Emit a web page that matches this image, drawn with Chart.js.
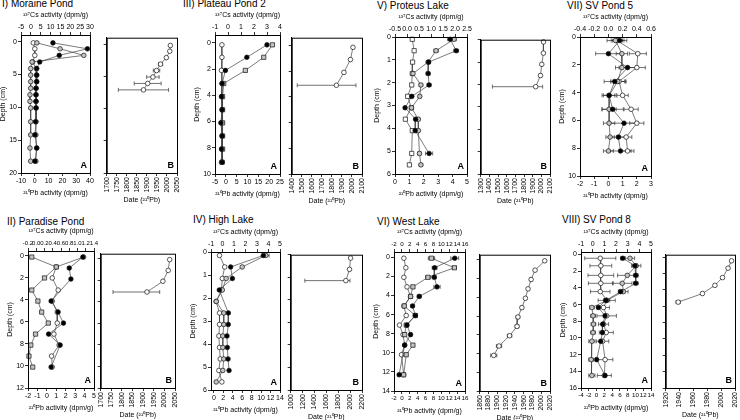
<!DOCTYPE html>
<html>
<head>
<meta charset="utf-8">
<script src="https://cdn.jsdelivr.net/npm/chart.js@4.4.1/dist/chart.umd.min.js"></script>
<style>
  body { margin: 0; width: 740px; height: 420px; position: relative; overflow: hidden; background: #fff;
         font-family: "Liberation Sans", Arial, sans-serif; }
  canvas { position: absolute; }
  .ttl { position: absolute; font-size: 10px; line-height: 12px; color: #000; white-space: nowrap; }
</style>
</head>
<body>
<div class="ttl" style="left:2px;top:-2px">I) Moraine Pond</div>
<div class="ttl" style="left:183px;top:-2px">III) Plateau Pond 2</div>
<div class="ttl" style="left:377px;top:0px">V) Proteus Lake</div>
<div class="ttl" style="left:567px;top:0px">VII) SV Pond 5</div>
<div class="ttl" style="left:7px;top:216px">II) Paradise Pond</div>
<div class="ttl" style="left:193px;top:214px">IV) High Lake</div>
<div class="ttl" style="left:377px;top:216px">VI) West Lake</div>
<div class="ttl" style="left:562px;top:214px">VIII) SV Pond 8</div>

<script>
// --- DATA: depth (cm), 210Pb / 137Cs activity (dpm/g), 210Pb dates ---

// I) Moraine Pond
const morDepth = [0.2, 1.1, 2.1, 3.1, 4.1, 5.1, 6.1, 7.1, 8.1, 9.1, 10.1, 12.2, 14.2, 16.2, 18.2];
const morCs = [11.2, 28.7, 14.4, 4.5, 3, 3, 3, 2.6, 2.6, 2.6, 2.6, 2.4, 2.1, 3, 2.1];
const morGrey = [1.5, 18.3, 35.5, -2, -3, -3, -3, -3, -3.5, -3.5, -3, -3, -3, -3.5, -3];
const morWhite = [-1.1, 0, 0, -1.5, 1, 1.2, 1.2, 1, 0.9, 0.9, 1, 0.9, 0.8, 1.3, 0.8];
const morDateDepth = [0.2, 1.1, 2.1, 3.1, 4.1, 5.1, 6.1, 7.1];
const morDate = [2017, 2014, 1997, 1968, 1948, 1930, 1904, 1883];
const morDateErr = [0, 0, 2, 10, 16, 31, 67, 125];
const morDepthTicks = [0, 5, 10, 15, 20];
const morPbTicks = [-10, 0, 10, 20, 30, 40];
const morCsTicks = [-5, 0, 5, 10, 15, 20, 25, 30];
const morDateTicks = [1700, 1750, 1800, 1850, 1900, 1950, 2000, 2050];

// III) Plateau Pond 2
const ppDepth = [0.15, 1.1, 2.1, 3.1, 4.1, 5.1, 6.1, 7.1, 8.1, 9.1];
const ppCs = [3.0, 1.45, -0.2, -0.45, -0.5, -0.45, -0.55, -0.45, -0.5, -0.45];
const ppGrey = [21.5, 17.5, 9, -1, -1.5, -1.5, -1.5, -1.5, -1.5, -1.7];
const ppWhite = [-1.8, -1.8, -2, -1.8, -1.8, -1.8, -1.8, -1.8, -1.8, -2];
const ppDateDepth = [0.15, 1.1, 2.1, 3.1];
const ppDate = [2010, 1985, 1920, 1845];
const ppDateErr = [0, 0, 8, [390, 195]];
const ppDepthTicks = [0, 2, 4, 6, 8, 10];
const ppPbTicks = [-5, 0, 5, 10, 15, 20, 25];
const ppCsTicks = [-1, 0, 1, 2, 3, 4];
const ppDateTicks = [1400, 1500, 1600, 1700, 1800, 1900, 2000, 2100];

// V) Proteus Lake
const proDepth = [0.1, 0.6, 1.1, 1.6, 2.1, 2.6, 3.1, 3.6, 4.1, 5.1, 5.6];
const proWhite = [1.2, 1.33, 1.22, 1.2, 1.16, 0.88, 1.13, 0.72, 1.2, 1.16, 1.0];
const proGrey = [4.1, 2.85, 2.3, 1.25, 1.8, 1.72, 1.15, 1.62, 1.62, 1.7, 1.8];
const proGreyErr = [0.15, 0.15, 0.12, 0.1, 0.12, 0.1, 0.1, 0.1, 0.1, 0.12, 0.12];
const proCsDepth = [0.1, 0.6, 1.1, 1.6, 2.1, 2.6, 3.1, 3.6, 4.1, 5.1];
const proCs = [1.8, 2.05, 0.9, 0.88, 0.92, 0.2, -0.08, 0.36, 0.34, 0.92];
const proCsErr = [0.1, 0.1, 0.08, 0.08, 0.08, 0.06, 0.05, 0.06, 0.06, 0.15];
const proDateDepth = [0.1, 0.6, 1.1, 1.6, 2.1];
const proDate = [2025, 2024, 2005, 1990, 1935];
const proDateErr = [0, 0, 8, 12, [500, 80]];
const proDepthTicks = [0, 1, 2, 3, 4, 5, 6];
const proPbTicks = [0, 1, 2, 3, 4, 5];
const proCsTicks = ['-0.5', '0.0', '0.5', '1.0', '1.5', '2.0', '2.5'];
const proDateTicks = [1300, 1400, 1500, 1600, 1700, 1800, 1900, 2000, 2100];

// VII) SV Pond 5
const sv5Depth = [0.25, 1.2, 2.2, 3.2, 4.2, 5.2, 6.2, 7.2, 8.2];
const sv5Cs = [0.16, 0.0, 0.27, 0.09, 0.01, 0.06, 0.22, 0.14, 0.17];
const sv5CsErr = [0.1, 0.18, 0.12, 0.15, 0.1, 0.15, 0.2, 0.12, 0.15];
const sv5White = [0.6, 2.07, 2.0, 0.75, 1.0, 1.6, 2.0, 1.25, 1.35];
const sv5WhiteErr = [0.4, 0.6, 0.6, 0.5, 0.4, 0.5, 0.5, 0.4, 0.45];
const sv5Grey = [0.5, 0.95, 0.95, 0.65, 0.05, 0.05, 0.05, 0.12, 0.0];
const sv5GreyErr = [0.6, 0.4, 0.45, 0.5, 0.4, 0.5, 0.4, 0.3, 0.35];
const sv5DepthTicks = [0, 2, 4, 6, 8, 10];
const sv5PbTicks = [-2, -1, 0, 1, 2, 3];
const sv5CsTicks = ['-0.4', '-0.2', '0.0', '0.2', '0.4', '0.6'];

// II) Paradise Pond
const parDepth = [0.1, 1.0, 2.0, 3.1, 4.1, 5.1, 6.1, 7.1, 8.1, 9.1, 10.1];
const parGrey = [-1.6, 1.0, -0.25, -1.6, -0.95, -0.55, 0.15, -1.2, -1.7, -1.9, -1.5];
const parWhite = [3.9, 1.0, 0.57, 1.2, 0.57, 1.1, 1.1, 0.75, 1.3, 0.5, 0.57];
const parCsDepth = [0.1, 1.1, 2.1, 4.1, 5.1, 6.1, 7.1, 8.1, 10.1];
const parCs = [1.13, 0.8, 0.84, 0.36, 0.53, 0.66, 0.3, 0.58, 0.36];
const parDateDepth = [0.1, 1.1, 2.1, 3.1];
const parDate = [2025, 2018, 1993, 1918];
const parDateErr = [0, 0, 3, [160, 60]];
const parDepthTicks = [0, 2, 4, 6, 8, 10, 12];
const parPbTicks = [-2, -1, 0, 1, 2, 3, 4, 5];
const parCsTicks = ['-0.2', '0.0', '0.2', '0.4', '0.6', '0.8', '1.0', '1.2', '1.4'];
const parDateTicks = [1700, 1750, 1800, 1850, 1900, 1950, 2000, 2050];

// IV) High Lake
const hlDepth = [0.15, 0.65, 1.15, 1.65, 2.15, 2.65, 3.15, 3.65, 4.15, 4.65, 5.15, 5.65];
const hlGrey = [11.0, 6.0, 2.6, 1.8, 0.5, 2.1, 2.1, 1.9, 1.9, 2.1, 1.9, 0.5];
const hlGreyErr = [0.7, 0, 0, 0, 0, 0, 0, 0, 0, 0, 0, 0];
const hlWhite = [1.2, 2.3, 1.8, 1.6, 0.5, 1.2, 1.2, 1.07, 1.2, 1.35, 1.07, 1.7];
const hlCsDepth = [0.15, 0.65, 1.15, 1.65, 2.65, 3.15, 3.65, 4.15, 4.65, 5.15];
const hlCs = [3.55, 0.71, 0.86, -0.28, 0.51, 0.5, 0.39, 0.42, 0.48, 0.57];
const hlDateDepth = [0.15, 0.65, 1.15];
const hlDate = [2008, 1990, 1928];
const hlDateErr = [0, 3, [690, 70]];
const hlDepthTicks = [0, 1, 2, 3, 4, 5, 6];
const hlPbTicks = [0, 2, 4, 6, 8, 10, 12, 14];
const hlCsTicks = [-1, 0, 1, 2, 3, 4, 5];
const hlDateTicks = [1000, 1200, 1400, 1600, 1800, 2000, 2200];

// VI) West Lake
const wlDepth = [0.1, 1.1, 2.1, 3.1, 4.1, 5.1, 6.1, 7.1, 8.1, 9.2, 10.2, 12.3];
const wlGrey = [7.5, 13.3, 6.6, 2.8, 2.2, 0.6, 3.4, 1.1, 0.7, 2.8, 1.1, 0.45];
const wlGreyErr = [0.8, 0.5, 0.6, 0.4, 0.3, 0.3, 0.4, 0.3, 0.3, 0.3, 0.3, 0.3];
const wlWhite = [0.5, 1.0, 0.5, 1.3, 2.2, 0.5, 1.1, -0.6, 0.3, 0.7, -0.1, 0.45];
const wlCsDepth = [0.1, 1.1, 2.1, 3.1, 4.1, 5.1, 6.1, 7.1, 8.1, 9.2, 12.3];
const wlCs = [13.4, 8.3, 8.2, 8.9, 4.4, 2.7, 3.4, 1.3, 2.2, 0.7, -0.7];
const wlCsErr = [1, 0.6, 0.5, 0.8, 0.5, 0.4, 0.4, 0.3, 0.3, 0.3, 0.3];
const wlDateDepth = [0.1, 1.1, 2.1, 3.1, 4.1, 5.1, 6.1, 7.1, 8.1, 9.2, 10.2];
const wlDate = [2008, 1986, 1977, 1970, 1964, 1956, 1947, 1945, 1928, 1904, 1892];
const wlDateErr = [0, 1, 2, 2, 2, 3, 4, 4, 5, 6, 7];
const wlDepthTicks = [0, 2, 4, 6, 8, 10, 12, 14];
const wlPbTicks = [-2, 0, 2, 4, 6, 8, 10, 12, 14, 16];
const wlCsTicks = [-2, 0, 2, 4, 6, 8, 10, 12, 14, 16];
const wlDateTicks = [1860, 1880, 1900, 1920, 1940, 1960, 1980, 2000, 2020];

// VIII) SV Pond 8
const sv8Depth = [0.45, 1.35, 2.5, 3.45, 4.45, 5.5, 6.35, 7.35, 8.35, 9.35, 10.4, 12.6, 14.5];
const sv8White = [0.95, 1.1, 1.1, 1.1, 0.95, 2.6, 1.8, 2.6, 1.8, 2.5, 1.55, 2.2, 2.0];
const sv8WhiteErr = [4, 2.8, 3.3, 3.2, 2.5, 2.2, 1.5, 2.5, 1.3, 1.8, 1.6, 2.0, 1.8];
const sv8Grey = [8.6, 10.2, 7.9, 6.6, 6.9, 2.6, -1.2, -0.9, -0.8, -0.9, -1.2, -1.4, -1.2];
const sv8GreyErr = [1.2, 1.2, 2.5, 2.5, 1.2, 0.8, 0.6, 0.6, 0.6, 0.6, 0.8, 0.6, 0.8];
const sv8Cs = [2.57, 3.63, 3.7, 3.7, 2.4, 1.14, 0.49, 1.06, 0.86, 0.83, 0.69, 0.34, 1.06];
const sv8CsErr = [0.15, 0.2, 0.2, 0.2, 0.2, 0.15, 0.12, 0.12, 0.1, 0.1, 0.1, 0.1, 0.1];
const sv8DateDepth = [0.45, 1.35, 2.5, 3.45, 4.45, 5.5];
const sv8Date = [2015, 2010, 2002, 1991, 1973, 1938];
const sv8DateErr = [0, 0, 0, 0, 1, 3];
const sv8DepthTicks = [0, 2, 4, 6, 8, 10, 12, 14, 16];
const sv8PbTicks = [-4, -2, 0, 2, 4, 6, 8, 10, 12, 14];
const sv8CsTicks = [-1, 0, 1, 2, 3, 4, 5];
const sv8DateTicks = [1920, 1940, 1960, 1980, 2000, 2020];

// --- STYLES ---
const FAMILY = '"Liberation Sans", Arial, sans-serif';
const FONT = { family: FAMILY, size: 7 };
const BLACK = { shape: 'circle', fill: '#000', r: 2.3 };
const GREY = { shape: 'circle', fill: '#c4c4c4', r: 2.3 };
const WHITE = { shape: 'circle', fill: '#fff', r: 2.3 };
const GREY_SQ = { shape: 'rect', fill: '#c4c4c4', r: 3 };
const WHITE_SQ = { shape: 'rect', fill: '#fff', r: 3 };

// --- PLUGINS ---
// horizontal error bars, drawn under the lines and markers
const errorBars = {
  id: 'errorBars',
  beforeDatasetsDraw(chart) {
    const ctx = chart.ctx;
    ctx.save();
    ctx.strokeStyle = '#333';
    ctx.lineWidth = 0.7;
    chart.data.datasets.forEach((ds, i) => {
      if (!ds.errX) return;
      const meta = chart.getDatasetMeta(i);
      ds.data.forEach((p, j) => {
        const e = ds.errX[j];
        if (!e) return;
        const lo = Array.isArray(e) ? e[0] : e, hi = Array.isArray(e) ? e[1] : e;
        const x1 = meta.xScale.getPixelForValue(p.x - lo);
        const x2 = meta.xScale.getPixelForValue(p.x + hi);
        const y = meta.yScale.getPixelForValue(p.y);
        ctx.beginPath();
        ctx.moveTo(x1, y); ctx.lineTo(x2, y);
        ctx.moveTo(x1, y - 2); ctx.lineTo(x1, y + 2);
        ctx.moveTo(x2, y - 2); ctx.lineTo(x2, y + 2);
        ctx.stroke();
      });
    });
    ctx.restore();
  }
};

// box around the plot area + panel letter
const frame = {
  id: 'frame',
  afterDraw(chart, args, opts) {
    const { ctx, chartArea: a } = chart;
    ctx.save();
    ctx.strokeStyle = '#000';
    ctx.lineWidth = 1;
    ctx.strokeRect(a.left + 0.5, a.top + 0.5, a.right - a.left, a.bottom - a.top);
    if (opts.letter) {
      ctx.fillStyle = '#000';
      ctx.font = 'bold 9px ' + FAMILY;
      ctx.textAlign = 'right';
      ctx.textBaseline = 'alphabetic';
      ctx.fillText(opts.letter, a.right - 3, a.bottom - 5);
    }
    ctx.restore();
  }
};

// --- HELPERS ---
function addCanvas(x, y, w, h) {
  const c = document.createElement('canvas');
  c.width = w; c.height = h;
  c.style.left = x + 'px'; c.style.top = y + 'px';
  c.style.width = w + 'px'; c.style.height = h + 'px';
  document.body.appendChild(c);
  return c;
}

function noPad(s) { s.paddingLeft = s.paddingRight = s.paddingTop = s.paddingBottom = 0; }

function xAxis(pos, range, ticks, size, title, rot, fs) {
  return {
    type: 'linear', position: pos, min: range[0], max: range[1],
    afterBuildTicks: s => { s.ticks = ticks.map(t => ({ value: parseFloat(t) })); },
    afterFit: s => { s.height = size; noPad(s); },
    ticks: { font: { family: FAMILY, size: fs || 7 }, color: '#000', padding: 1, autoSkip: false,
             minRotation: rot || 0, maxRotation: rot || 0, callback: (v, i) => String(ticks[i]) },
    grid: { drawOnChartArea: false, tickLength: 3, color: '#000', lineWidth: 0.8 },
    border: { color: '#000', width: 1 },
    title: { display: true, text: title, font: FONT, color: '#000', padding: { top: 2, bottom: 2 } }
  };
}

function depthAxis(range, ticks, size, labels) {
  return {
    type: 'linear', reverse: true, min: range[0], max: range[1],
    afterBuildTicks: s => { s.ticks = ticks.map(t => ({ value: t })); },
    afterFit: s => { s.width = size; noPad(s); },
    ticks: { display: labels, font: FONT, color: '#000', padding: 1, autoSkip: false,
             callback: (v, i) => String(ticks[i]) },
    grid: { drawOnChartArea: false, tickLength: 3, color: '#000', lineWidth: 0.8 },
    border: { color: '#000', width: 1 },
    title: { display: labels, text: 'Depth (cm)', font: FONT, color: '#000', padding: { top: 2, bottom: 2 } }
  };
}

function series(depths, values, st, axis, errs) {
  return {
    data: depths.map((d, i) => ({ x: values[i], y: d })),
    xAxisID: axis, showLine: true, clip: false,
    borderColor: '#444', borderWidth: 0.7,
    pointStyle: st.shape, pointRadius: st.r, pointBorderWidth: 0.7,
    pointBackgroundColor: st.fill, pointBorderColor: '#111',
    errX: errs
  };
}

function range(ticks) { return [parseFloat(ticks[0]), parseFloat(ticks[ticks.length - 1])]; }

function panelA(box, o) {
  const L = 24, T = 26, B = 26, R = 6;
  const c = addCanvas(box.l - L, box.t - T, box.r - box.l + L + R, box.b - box.t + T + B);
  new Chart(c, {
    type: 'scatter',
    data: { datasets: o.series },
    options: {
      responsive: false, animation: false, devicePixelRatio: 1,
      layout: { padding: { left: 0, top: 0, right: R, bottom: 0 } },
      plugins: { legend: { display: false }, tooltip: { enabled: false }, frame: { letter: 'A' } },
      scales: {
        y: depthAxis(o.depth, o.depthTicks, L, true),
        x: xAxis('bottom', o.pbRange || range(o.pbTicks), o.pbTicks, B, '\u00B2\u00B9\u2070Pb activity (dpm/g)', 0, o.pbFs),
        x2: xAxis('top', o.csRange || range(o.csTicks), o.csTicks, T, '\u00B9\u00B3\u2077Cs activity (dpm/g)', 0, o.csFs)
      }
    },
    plugins: [errorBars, frame]
  });
}

function panelB(box, o) {
  const L = 4, T = 2, B = 33, R = 5;
  const c = addCanvas(box.l - L, box.t - T, box.r - box.l + L + R, box.b - box.t + T + B);
  new Chart(c, {
    type: 'scatter',
    data: { datasets: [series(o.depths, o.dates, WHITE, 'x', o.errs)] },
    options: {
      responsive: false, animation: false, devicePixelRatio: 1,
      layout: { padding: { left: 0, top: T, right: R, bottom: 0 } },
      plugins: { legend: { display: false }, tooltip: { enabled: false }, frame: { letter: 'B' } },
      scales: {
        y: depthAxis(o.depth, o.depthTicks, L, false),
        x: xAxis('bottom', range(o.dateTicks), o.dateTicks, B, 'Date (\u00B2\u00B9\u2070Pb)', 90)
      }
    },
    plugins: [errorBars, frame]
  });
}

// --- BUILD PANELS ---
// I) Moraine Pond
panelA({ l: 21, r: 90, t: 35, b: 173 }, {
  depth: [-1, 20], depthTicks: morDepthTicks, pbTicks: morPbTicks, csTicks: morCsTicks,
  series: [series(morDepth, morCs, BLACK, 'x2'), series(morDepth, morGrey, GREY, 'x'), series(morDepth, morWhite, WHITE, 'x')]
});
panelB({ l: 106, r: 177, t: 35, b: 173 }, {
  depth: [-1, 20], depthTicks: morDepthTicks, dateTicks: morDateTicks,
  depths: morDateDepth, dates: morDate, errs: morDateErr
});

// III) Plateau Pond 2
panelA({ l: 215, r: 280, t: 35, b: 174 }, {
  depth: [-0.6, 10], depthTicks: ppDepthTicks, pbTicks: ppPbTicks, csTicks: ppCsTicks,
  series: [series(ppDepth, ppCs, BLACK, 'x2'), series(ppDepth, ppGrey, GREY_SQ, 'x'), series(ppDepth, ppWhite, WHITE, 'x')]
});
panelB({ l: 291, r: 362, t: 35, b: 174 }, {
  depth: [-0.6, 10], depthTicks: ppDepthTicks, dateTicks: ppDateTicks,
  depths: ppDateDepth, dates: ppDate, errs: ppDateErr
});

// V) Proteus Lake
panelA({ l: 395, r: 467, t: 37, b: 174 }, {
  depth: [0, 6], depthTicks: proDepthTicks, pbTicks: proPbTicks, csTicks: proCsTicks,
  series: [series(proCsDepth, proCs, BLACK, 'x2', proCsErr), series(proDepth, proGrey, GREY, 'x', proGreyErr),
           series(proDepth, proWhite, WHITE_SQ, 'x')]
});
panelB({ l: 480, r: 550, t: 37, b: 174 }, {
  depth: [0, 6], depthTicks: proDepthTicks, dateTicks: proDateTicks,
  depths: proDateDepth, dates: proDate, errs: proDateErr
});

// VII) SV Pond 5
panelA({ l: 580, r: 651, t: 37, b: 176 }, {
  depth: [0, 10], depthTicks: sv5DepthTicks, pbTicks: sv5PbTicks, csTicks: sv5CsTicks,
  series: [series(sv5Depth, sv5Cs, BLACK, 'x2', sv5CsErr), series(sv5Depth, sv5Grey, GREY, 'x', sv5GreyErr),
           series(sv5Depth, sv5White, WHITE, 'x', sv5WhiteErr)]
});

// II) Paradise Pond
panelA({ l: 28, r: 94, t: 251, b: 388 }, {
  depth: [-0.45, 12], depthTicks: parDepthTicks, pbTicks: parPbTicks, csTicks: parCsTicks, csFs: 6,
  series: [series(parCsDepth, parCs, BLACK, 'x2'), series(parDepth, parGrey, GREY_SQ, 'x'), series(parDepth, parWhite, WHITE, 'x')]
});
panelB({ l: 100, r: 175, t: 251, b: 388 }, {
  depth: [-0.45, 12], depthTicks: parDepthTicks, dateTicks: parDateTicks,
  depths: parDateDepth, dates: parDate, errs: parDateErr
});

// IV) High Lake
panelA({ l: 211, r: 280, t: 252, b: 390 }, {
  depth: [0, 6], depthTicks: hlDepthTicks, pbTicks: hlPbTicks, pbRange: [-0.6, 14], csTicks: hlCsTicks,
  series: [series(hlCsDepth, hlCs, BLACK, 'x2'), series(hlDepth, hlGrey, GREY, 'x', hlGreyErr), series(hlDepth, hlWhite, WHITE, 'x')]
});
panelB({ l: 290, r: 362, t: 252, b: 390 }, {
  depth: [0, 6], depthTicks: hlDepthTicks, dateTicks: hlDateTicks,
  depths: hlDateDepth, dates: hlDate, errs: hlDateErr
});

// VI) West Lake
panelA({ l: 394, r: 465, t: 252, b: 391 }, {
  depth: [-0.55, 14], depthTicks: wlDepthTicks, pbTicks: wlPbTicks, csTicks: wlCsTicks, pbFs: 6.2, csFs: 6.2,
  series: [series(wlCsDepth, wlCs, BLACK, 'x2', wlCsErr), series(wlDepth, wlGrey, GREY_SQ, 'x', wlGreyErr),
           series(wlDepth, wlWhite, WHITE, 'x')]
});
panelB({ l: 479, r: 550, t: 252, b: 391 }, {
  depth: [-0.55, 14], depthTicks: wlDepthTicks, dateTicks: wlDateTicks,
  depths: wlDateDepth, dates: wlDate, errs: wlDateErr
});

// VIII) SV Pond 8
panelA({ l: 581, r: 651, t: 252, b: 388 }, {
  depth: [-0.3, 16], depthTicks: sv8DepthTicks, pbTicks: sv8PbTicks, csTicks: sv8CsTicks, pbFs: 6.2,
  series: [series(sv8Depth, sv8Cs, BLACK, 'x2', sv8CsErr), series(sv8Depth, sv8Grey, GREY, 'x', sv8GreyErr),
           series(sv8Depth, sv8White, WHITE, 'x', sv8WhiteErr)]
});
panelB({ l: 665, r: 735, t: 252, b: 388 }, {
  depth: [-0.3, 16], depthTicks: sv8DepthTicks, dateTicks: sv8DateTicks,
  depths: sv8DateDepth, dates: sv8Date, errs: sv8DateErr
});
</script>
</body>
</html>
